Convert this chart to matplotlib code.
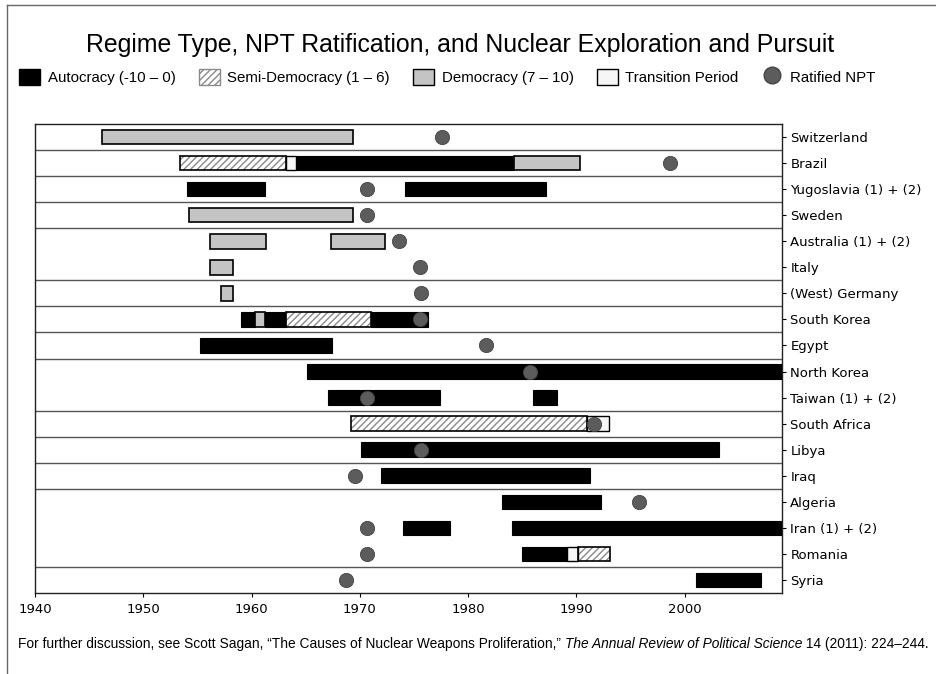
import numpy as np
import matplotlib.pyplot as plt
from matplotlib.patches import Patch
from matplotlib.lines import Line2D

# rows, top to bottom
countries = ["Switzerland", "Brazil", "Yugoslavia (1) + (2)", "Sweden",
             "Australia (1) + (2)", "Italy", "(West) Germany", "South Korea",
             "Egypt", "North Korea", "Taiwan (1) + (2)", "South Africa",
             "Libya", "Iraq", "Algeria", "Iran (1) + (2)", "Romania", "Syria"]

# year each country ratified the NPT
npt_year = [1977.6, 1998.7, 1970.7, 1970.7, 1973.6, 1975.6, 1975.7, 1975.6,
            1981.7, 1985.7, 1970.7, 1991.6, 1975.7, 1969.6, 1995.8, 1970.7,
            1970.7, 1968.7]

# (country, start, end)
autocracy = [("Brazil", 1964.1, 1984.2),
             ("Yugoslavia (1) + (2)", 1954.0, 1961.2),
             ("Yugoslavia (1) + (2)", 1974.2, 1987.2),
             ("South Korea", 1959.0, 1960.3),
             ("South Korea", 1961.2, 1963.2),
             ("South Korea", 1971.0, 1976.3),
             ("Egypt", 1955.2, 1967.4),
             ("North Korea", 1965.1, 2009.0),
             ("Taiwan (1) + (2)", 1967.1, 1977.4),
             ("Taiwan (1) + (2)", 1986.0, 1988.2),
             ("Libya", 1970.1, 2003.2),
             ("Iraq", 1972.0, 1991.3),
             ("Algeria", 1983.1, 1992.3),
             ("Iran (1) + (2)", 1974.0, 1978.3),
             ("Iran (1) + (2)", 1984.1, 2009.0),
             ("Romania", 1985.0, 1989.1),
             ("Syria", 2001.1, 2007.1)]

semi_democracy = [("Brazil", 1953.4, 1963.2),
                  ("South Korea", 1963.2, 1971.0),
                  ("South Africa", 1969.2, 1991.0),
                  ("Romania", 1990.2, 1993.1)]

democracy = [("Switzerland", 1946.2, 1969.4),
             ("Brazil", 1984.2, 1990.3),
             ("Sweden", 1954.2, 1969.4),
             ("Australia (1) + (2)", 1956.2, 1961.3),
             ("Australia (1) + (2)", 1967.3, 1972.3),
             ("Italy", 1956.2, 1958.3),
             ("(West) Germany", 1957.2, 1958.3),
             ("South Korea", 1960.3, 1961.2)]

transition = [("Brazil", 1963.2, 1964.1),
              ("South Africa", 1991.0, 1993.0),
              ("Romania", 1989.1, 1990.2)]

# separator lines drawn below these rows
separated_after = ["Switzerland", "Brazil", "Yugoslavia (1) + (2)", "Sweden",
                   "Italy", "(West) Germany", "South Korea", "Egypt",
                   "Taiwan (1) + (2)", "South Africa", "Libya", "Iraq", "Romania"]

x_ticks = [1940, 1950, 1960, 1970, 1980, 1990, 2000]

BAR_H = 0.56
DEMO_GREY = "#c4c4c4"
DOT_GREY = "#5c5c5c"

fig = plt.figure(figsize=(9.36, 6.74), dpi=100)
ax = fig.add_axes([35 / 936, 1 - 593 / 674, (782 - 35) / 936, (593 - 124) / 674])

row = {c: i for i, c in enumerate(countries)}


def draw_segments(segs, **kw):
    ys = [row[c] for c, s, e in segs]
    starts = [s for c, s, e in segs]
    widths = [e - s for c, s, e in segs]
    ax.barh(ys, widths, left=starts, height=BAR_H, **kw)


draw_segments(autocracy, color="black", edgecolor="black", linewidth=0.8, zorder=3)
draw_segments(democracy, color=DEMO_GREY, edgecolor="black", linewidth=1.2, zorder=3)
# hatched fill first, then a black outline on top
draw_segments(semi_democracy, color="white", edgecolor="#8a8a8a", hatch="/////",
              linewidth=0, zorder=3)
draw_segments(semi_democracy, color="none", edgecolor="black", linewidth=1.2, zorder=4)
draw_segments(transition, color="#f6f6f6", edgecolor="black", linewidth=1.0, zorder=3)

ax.scatter(npt_year, range(len(countries)), s=105, color=DOT_GREY,
           edgecolor="#444444", linewidth=0.6, zorder=5)

for c in separated_after:
    ax.axhline(row[c] + 0.5, color="#555555", linewidth=1.0, zorder=1)

ax.set_xlim(1940, 2009)
ax.set_ylim(len(countries) - 0.5, -0.5)
ax.set_xticks(x_ticks)
ax.set_xticklabels([str(t) for t in x_ticks], fontsize=9.5)
ax.set_yticks(range(len(countries)))
ax.set_yticklabels(countries, fontsize=9.5)
ax.yaxis.tick_right()
ax.tick_params(axis="y", length=3, width=0.8, pad=3)
ax.tick_params(axis="x", length=3, width=0.8, pad=4)
for sp in ax.spines.values():
    sp.set_linewidth(1.0)
    sp.set_color("#222222")

fig.text(0.492, 1 - 45 / 674, "Regime Type, NPT Ratification, and Nuclear Exploration and Pursuit",
         ha="center", va="center", fontsize=17.9, family="Liberation Sans")

handles = [
    Patch(facecolor="black", edgecolor="black", label="Autocracy (-10 \u2013 0)"),
    Patch(facecolor="white", edgecolor="#8a8a8a", hatch="/////", label="Semi-Democracy (1 \u2013 6)"),
    Patch(facecolor=DEMO_GREY, edgecolor="black", label="Democracy (7 \u2013 10)"),
    Patch(facecolor="#f6f6f6", edgecolor="black", label="Transition Period"),
    Line2D([], [], marker="o", linestyle="none", markersize=12, markerfacecolor=DOT_GREY,
           markeredgecolor="#444444", label="Ratified NPT"),
]
fig.legend(handles=handles, ncol=5, loc="center", bbox_to_anchor=(0.478, 1 - 77 / 674),
           frameon=False, prop={"family": "Liberation Sans", "size": 10.8},
           handlelength=1.4, handleheight=1.35, handletextpad=0.5, columnspacing=1.55)

# footnote with italic journal title, pieces placed one after another
parts = [("For further discussion, see Scott Sagan, \u201cThe Causes of Nuclear Weapons Proliferation,\u201d ", "normal"),
         ("The Annual Review of Political Science", "italic"),
         (" 14 (2011): 224\u2013244.", "normal")]
fig.canvas.draw()
renderer = fig.canvas.get_renderer()
x = 18 / 936
for txt, style in parts:
    t = fig.text(x, 1 - 644 / 674, txt, ha="left", va="center", fontsize=9.9,
                 family="Liberation Sans", style=style)
    bb = t.get_window_extent(renderer=renderer)
    x = bb.x1 / fig.bbox.width

# outer frame of the figure
fig.add_artist(Line2D([7 / 936, 7 / 936], [0, 1 - 5 / 674], color="#666666", linewidth=1.0))
fig.add_artist(Line2D([7 / 936, 1], [1 - 5 / 674, 1 - 5 / 674], color="#666666", linewidth=1.0))

fig.savefig("out.png", dpi=100, facecolor="white")
